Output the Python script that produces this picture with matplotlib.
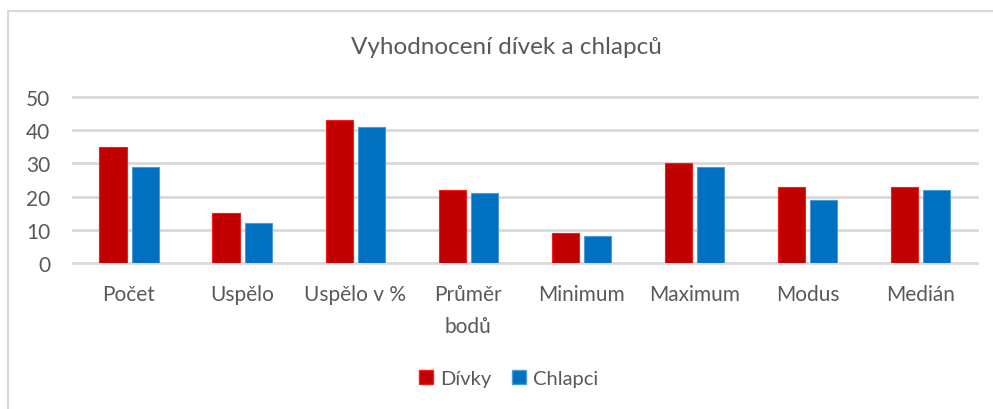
import matplotlib.pyplot as plt
import numpy as np
from matplotlib.lines import Line2D

plt.rcParams["font.family"] = ["Lato", "DejaVu Sans"]

categories = ["Počet", "Uspělo", "Uspělo v %", "Průměr\nbodů", "Minimum",
              "Maximum", "Modus", "Medián"]
divky = [35, 15, 43, 22, 9, 30, 23, 23]
chlapci = [29, 12, 41, 21, 8, 29, 19, 22]

text_color = "#595959"
grid_color = "#D9D9D9"
red, red_edge = "#C00000", "#FF1A1A"
blue, blue_edge = "#0070C0", "#4A9BD8"

W, H = 993, 410
fig = plt.figure(figsize=(W / 100, H / 100), dpi=100)
ax = fig.add_axes([72.5 / W, 1 - 264 / H, (977 - 72.5) / W, (264 - 98) / H])

x = np.arange(len(categories))
bw = 0.24
off = 0.142
ax.bar(x - off, divky, bw, color=red, edgecolor=red_edge, linewidth=0.8,
       label="Dívky", zorder=3)
ax.bar(x + off, chlapci, bw, color=blue, edgecolor=blue_edge, linewidth=0.8,
       label="Chlapci", zorder=3)

ax.set_xlim(-0.5, len(categories) - 0.5)
ax.set_ylim(0, 50)
ax.set_yticks(range(0, 51, 10))
ax.yaxis.grid(True, color=grid_color, linewidth=2.0, zorder=0)
for gl in ax.get_ygridlines():
    gl.set_clip_on(False)
ax.set_xticks(x)
ax.set_xticklabels(categories, linespacing=1.75)
ax.tick_params(axis="x", length=0, pad=15, labelsize=15, labelcolor=text_color)
ax.tick_params(axis="y", length=0, pad=16, labelsize=15, labelcolor=text_color)
for s in ax.spines.values():
    s.set_visible(False)

fig.text(506 / W, 1 - 47 / H, "Vyhodnocení dívek a chlapců", ha="center",
         va="center", fontsize=17.5, color=text_color)

handles = [
    Line2D([], [], marker="s", linestyle="none", markersize=10,
           markerfacecolor=red, markeredgecolor=red_edge, label="Dívky"),
    Line2D([], [], marker="s", linestyle="none", markersize=10,
           markerfacecolor=blue, markeredgecolor=blue_edge, label="Chlapci"),
]
leg = fig.legend(handles=handles, loc="center", ncol=2,
                 bbox_to_anchor=(508 / W, 1 - 379 / H), frameon=False,
                 fontsize=14.5, handlelength=0.8, handletextpad=0.3,
                 columnspacing=1.0)
for t in leg.get_texts():
    t.set_color(text_color)

# chart area border (only top and left edges visible)
fig.add_artist(Line2D([8 / W, 1.0], [1 - 12 / H] * 2, color=grid_color,
                      linewidth=1.5))
fig.add_artist(Line2D([8 / W] * 2, [0.0, 1 - 12 / H], color=grid_color,
                      linewidth=1.5))

fig.savefig("out.png", dpi=100)
